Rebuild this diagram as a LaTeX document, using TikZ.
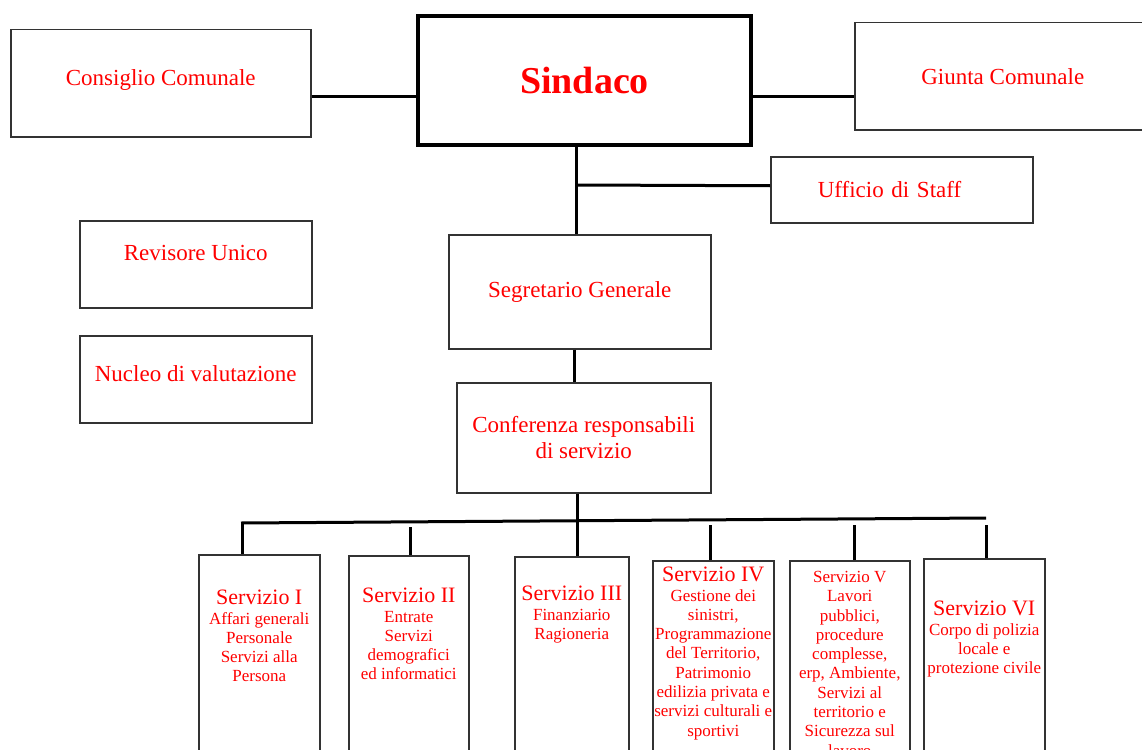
\documentclass[tikz,border=0pt]{standalone}
\usepackage{fontspec}
\setmainfont{Liberation Serif}
\usepackage{xcolor}
\usepackage{tikz}
\usetikzlibrary{positioning,calc}

\newcommand{\srvtit}[1]{{\fontsize{22}{19.3}\selectfont #1}}

\begin{document}
\begin{tikzpicture}[
  x=1pt,y=-1pt,
  box/.style={draw=black!80,line width=1.5pt,inner sep=0pt,anchor=north west,
    text=red,align=center,font=\fontsize{23}{26}\selectfont},
  conn/.style={line width=3pt},
  srv/.style={text=red,inner sep=0pt,align=center,anchor=north,
    font=\fontsize{17}{19.3}\selectfont}
]
\useasboundingbox (0,0) rectangle (1142,749);
\clip (0,0) rectangle (1142,749);

% top row
\node[box,minimum width=300pt,minimum height=107pt,text height=15.7pt,text depth=11.5pt]
  (cons) at (10,29) {Consiglio Comunale};
\node[box,draw=black,line width=4pt,minimum width=333pt,minimum height=129pt,
  font=\fontsize{38}{40}\selectfont\bfseries] (sind) at (416,14) {Sindaco};
\node[box,minimum width=296pt,minimum height=107pt] (giun) at (854,22) {Giunta Comunale};
\node[box,minimum width=262pt,minimum height=66pt,text width=168pt,align=left]
  (uff) at (770,156) {Ufficio di Staff};

% left column
\node[box,minimum width=232pt,minimum height=87pt,text height=15.7pt,text depth=23.5pt]
  (rev) at (79,220) {Revisore Unico};
\node[box,minimum width=232pt,minimum height=87pt,text height=15.7pt,text depth=11.5pt]
  (nuc) at (79,335) {Nucleo di valutazione};

% centre column
\node[box,minimum width=262pt,minimum height=114pt] (seg) at (448,234) {Segretario Generale};
\node[box,minimum width=254pt,minimum height=110pt] (conf) at (456,382)
  {Conferenza responsabili\\di servizio};

% services
\node[box,minimum width=121pt,minimum height=206pt] (s1) at (198,554) {};
\node[box,minimum width=120pt,minimum height=205pt] (s2) at (348,555) {};
\node[box,minimum width=114pt,minimum height=204pt] (s3) at (514,556) {};
\node[box,minimum width=121pt,minimum height=200pt] (s4) at (652,560) {};
\node[box,minimum width=120pt,minimum height=200pt] (s5) at (789,560) {};
\node[box,minimum width=121pt,minimum height=202pt] (s6) at (923,558) {};

\node[srv,below=36pt of s1.north] (t1)
  {\srvtit{Servizio I}\\Affari generali\\Personale\\Servizi alla\\Persona};
\node[srv,below=33pt of s2.north] (t2)
  {\srvtit{Servizio II}\\Entrate\\Servizi\\demografici\\ed informatici};
\node[srv,below=30pt of s3.north] (t3)
  {\srvtit{Servizio III}\\Finanziario\\Ragioneria};
\node[srv,below=7pt of s4.north] (t4)
  {\srvtit{Servizio IV}\\Gestione dei\\sinistri,\\Programmazione\\del Territorio,\\Patrimonio\\edilizia privata e\\servizi culturali e\\sportivi};
\node[srv,below=11pt of s5.north] (t5)
  {Servizio V\\Lavori\\pubblici,\\procedure\\complesse,\\erp, Ambiente,\\Servizi al\\territorio e\\Sicurezza sul\\lavoro};
\node[srv,below=43pt of s6.north] (t6)
  {\srvtit{Servizio VI}\\Corpo di polizia\\locale e\\protezione civile};

% connectors
\draw[conn] ([yshift=-13.5pt]cons.east) -- ([yshift=-13.5pt]cons.east -| sind.west);
\draw[conn] ([yshift=-16.5pt]sind.east) -- ([yshift=-16.5pt]sind.east -| giun.west);
\coordinate (top) at ([xshift=-8.5pt]sind.south);
\draw[conn] (top) -- (top |- seg.north);
\draw[conn] (top |- 0,185) -- ([yshift=4pt]uff.west);
\draw[conn] ([xshift=-5pt]seg.south) -- ([xshift=-5pt]seg.south |- conf.north);
\draw[conn] ([xshift=-6pt]conf.south) -- ([xshift=-6pt]conf.south |- s3.north);

\coordinate (busL) at (241,523);
\coordinate (busR) at (986,518);
\draw[conn] (busL) -- (busR);
\coordinate (d1) at (242,522);
\coordinate (d2) at (410,527);
\coordinate (d4) at (710,525);
\coordinate (d5) at (854,525);
\coordinate (d6) at (986,525);
\foreach \d/\s in {d1/s1,d2/s2,d4/s4,d5/s5,d6/s6}
  \draw[conn] (\d) -- (\d |- \s.north);
\end{tikzpicture}
\end{document}
